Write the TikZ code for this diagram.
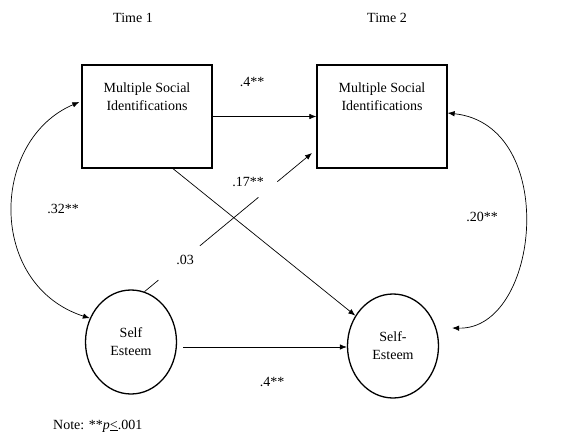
\documentclass[tikz,border=0pt]{standalone}
\usepackage{fontspec}
\setmainfont{Liberation Serif}
\usetikzlibrary{arrows.meta,calc,shapes.geometric}
\begin{document}
\begin{tikzpicture}[x=1pt,y=-1pt,
  every node/.style={font=\fontsize{14}{18}\selectfont},
  txt/.style={align=center, inner sep=0pt},
  msibox/.style={draw, line width=1.3pt, minimum width=130pt, minimum height=103pt, inner sep=0pt},
  seell/.style={draw, ellipse, line width=1.3pt, minimum width=91pt, minimum height=104pt, inner sep=0pt, align=center},
  arr/.style={line width=0.7pt, -{Latex[length=7pt,width=5.5pt]}},
  darr/.style={line width=0.7pt, {Latex[length=7pt,width=5.5pt]}-{Latex[length=7pt,width=5.5pt]}},
  lbl/.style={inner sep=0pt}]
\useasboundingbox (0,0) rectangle (586,436);

\node[txt] (t1) at (133,18) {Time 1};
\node[txt] (t2) at (387,18) {Time 2};

\node[msibox, label={[txt, anchor=north, yshift=-18pt]north:{Multiple Social\\Identifications}}] (msi1) at (147,116.5) {};
\node[msibox, label={[txt, anchor=north, yshift=-18pt]north:{Multiple Social\\Identifications}}] (msi2) at (382,116.5) {};

\node[seell] (se1) at (131,342) {Self\\Esteem};
\node[seell] (se2) at (393,346) {Self-\\Esteem};

% stability paths
\draw[arr] (msi1.east) -- (msi2.west);
\node[lbl] (l1) at (252,82) {.4**};
\draw[arr] ($(se1.east)+(6,5)$) -- (se2.west |- 0,347);
\node[lbl] (l2) at (272,382) {.4**};

% cross-lagged paths
\draw[arr] ($(msi1.south)+(26,0)$) -- (se2);

\coordinate (a) at (se1.75);
\coordinate (b) at (312,153);
\path (a) -- (b) coordinate[pos=0.083] (p1) coordinate[pos=0.331] (p2)
                 coordinate[pos=0.68] (p3) coordinate[pos=0.793] (p4);
\draw[line width=0.7pt] (a) -- (p1);
\draw[line width=0.7pt] (p2) -- (p3);
\draw[arr] (p4) -- (b);
\node[lbl] (l3) at (185,260) {.03};
\node[lbl] (l4) at (248,182) {.17**};

% correlations
\draw[darr] ($(msi1.west)+(-2,-14.5)$) .. controls (-10,140) and (-13,285) .. (se1.150);
\node[lbl] (l5) at (63,209) {.32**};
\draw[darr] ($(msi2.east)+(0,-3.5)$) .. controls (560,125) and (540,330) .. ($(se2.east)+(13,-18)$);
\node[lbl] (l6) at (482,217) {.20**};

\node[lbl, anchor=west] (note) at (53,426) {Note: **\textit{p}\underline{<}.001};
\end{tikzpicture}
\end{document}
